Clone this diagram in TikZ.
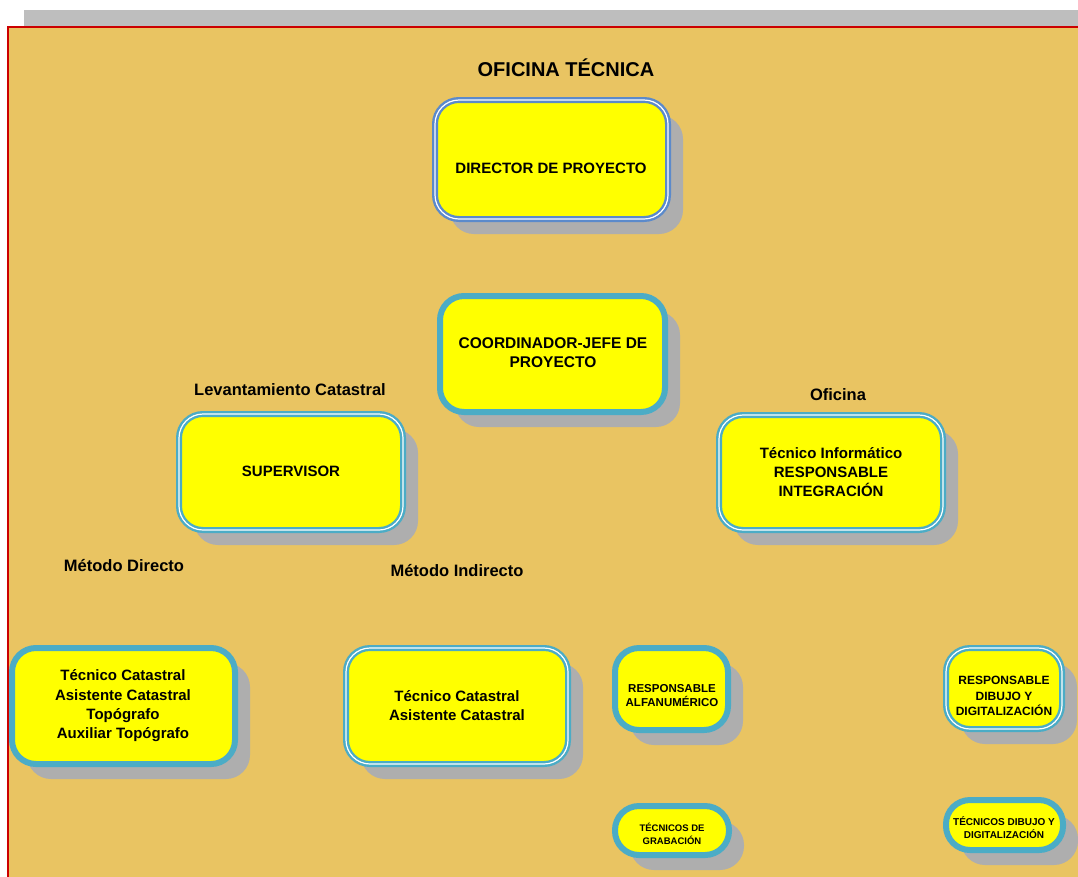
\documentclass[tikz,border=0pt]{standalone}
\usepackage{fontspec}
\setmainfont{Liberation Sans}
\usetikzlibrary{shadows}

\definecolor{pagegold}{HTML}{E9C462}
\definecolor{bandgray}{HTML}{BEBEBE}
\definecolor{framered}{HTML}{CC0000}
\definecolor{boxyellow}{HTML}{FFFF00}
\definecolor{edgeblue}{HTML}{4BACC6}
\definecolor{steelblue}{HTML}{5B8ACB}
\definecolor{shadowgray}{HTML}{AEAEAE}

\tikzset{
  boxbase/.style={rectangle, rounded corners=24pt, fill=boxyellow, inner sep=0pt,
    general shadow={shadow xshift=15pt, shadow yshift=-15pt, fill=shadowgray}},
  singlebox/.style={boxbase, draw=edgeblue, line width=6pt},
  doublebox/.style={boxbase, draw=edgeblue, line width=2.4pt, double=white, double distance=1.2pt},
  dirbox/.style={boxbase, draw=steelblue, line width=2.4pt, double=white, double distance=1.2pt},
  sz/.style 2 args={minimum width=#1pt-6pt, minimum height=#2pt-6pt},
  txt/.style={font=\bfseries\fontsize{15}{19}\selectfont, align=center, inner sep=0pt, text=black},
  grouplabel/.style={font=\bfseries\fontsize{16.5}{20}\selectfont, inner sep=0pt},
}

\begin{document}
\begin{tikzpicture}[x=1pt, y=-1pt]
  \useasboundingbox (0,0) rectangle (1078,876);
  \clip (0,0) rectangle (1078,876);

  % sheet: grey band, golden page, red frame
  \fill[bandgray] (24,10) rectangle (1078,27);
  \fill[pagegold] (8,27) rectangle (1090,890);
  \draw[framered, line width=2.2pt] (8,890) -- (8,27) -- (1090,27);

  % title
  \node[font=\bfseries\fontsize{20}{24}\selectfont, inner sep=0pt] (title) at (566,68) {OFICINA TÉCNICA};

  % boxes
  \node[dirbox, sz={239}{125}] (dir) at (551.5,159.5) {};
  \node[singlebox, sz={231}{122}] (coord) at (552.5,354) {};
  \node[doublebox, sz={230}{122}] (sup) at (291,472) {};
  \node[doublebox, sz={230}{121}] (inf) at (831,472.5) {};
  \node[singlebox, sz={229}{122}] (direc) at (123.5,706) {};
  \node[doublebox, sz={228}{122}] (indir) at (457,706) {};
  \node[singlebox, sz={119}{88}] (alfa) at (671.5,689) {};
  \node[doublebox, sz={122}{87}] (dibu) at (1004,688.5) {};
  \node[singlebox, sz={120}{55}] (grab) at (672,830.5) {};
  \node[singlebox, sz={123}{56}] (tdib) at (1004.5,825) {};

  % box texts
  \node[txt] (dirtxt) at (551,168) {DIRECTOR DE PROYECTO};
  \node[txt, font=\bfseries\fontsize{15.5}{19}\selectfont] (coordtxt) at (553,353) {COORDINADOR-JEFE DE\\PROYECTO};
  \node[txt] (suptxt) at (291,471) {SUPERVISOR};
  \node[txt] (inftxt) at (831,472) {Técnico Informático\\RESPONSABLE\\INTEGRACIÓN};
  \node[txt, font=\bfseries\fontsize{15}{19.3}\selectfont] (directxt) at (123,706) {Técnico Catastral\\Asistente Catastral\\Topógrafo\\Auxiliar Topógrafo};
  \node[txt] (indirtxt) at (457,706) {Técnico Catastral\\Asistente Catastral};
  \node[txt, font=\bfseries\fontsize{11.5}{14}\selectfont] (alfatxt) at (672,695.5) {RESPONSABLE\\ALFANUMÉRICO};
  \node[txt, font=\bfseries\fontsize{12}{15.5}\selectfont] (dibutxt) at (1004,696) {RESPONSABLE\\DIBUJO Y\\DIGITALIZACIÓN};
  \node[txt, font=\bfseries\fontsize{9.5}{13}\selectfont] (grabtxt) at (672,833.5) {TÉCNICOS DE\\GRABACIÓN};
  \node[txt, font=\bfseries\fontsize{10}{12.5}\selectfont] (tdibtxt) at (1004,827.5) {TÉCNICOS DIBUJO Y\\DIGITALIZACIÓN};

  % group labels
  \node[grouplabel] (levlbl) at (290,390) {Levantamiento Catastral};
  \node[grouplabel] (ofilbl) at (838,395) {Oficina};
  \node[grouplabel] (mdlbl) at (124,566) {Método Directo};
  \node[grouplabel] (milbl) at (457,571) {Método Indirecto};
\end{tikzpicture}
\end{document}
